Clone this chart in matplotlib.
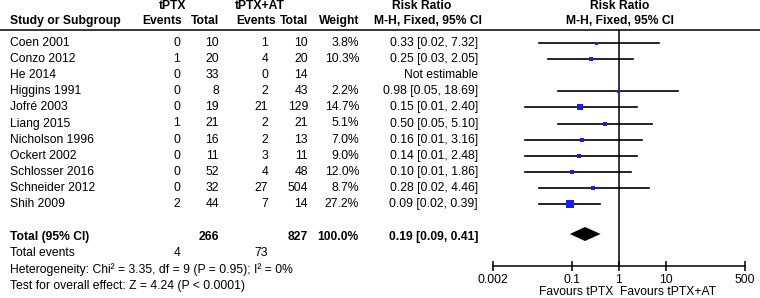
import matplotlib
matplotlib.use("Agg")
import matplotlib.pyplot as plt
from matplotlib.ticker import FixedLocator, FixedFormatter, NullLocator
import numpy as np

plt.rcParams['font.family'] = ['Liberation Sans', 'DejaVu Sans']

# data
studies = ["Coen 2001", "Conzo 2012", "He 2014", "Higgins 1991", "Jofré 2003",
           "Liang 2015", "Nicholson 1996", "Ockert 2002", "Schlosser 2016",
           "Schneider 2012", "Shih 2009"]
ev_ptx = [0, 1, 0, 0, 0, 1, 0, 0, 0, 0, 2]
tot_ptx = [10, 20, 33, 8, 19, 21, 16, 11, 52, 32, 44]
ev_at = [1, 4, 0, 2, 21, 2, 2, 3, 4, 27, 7]
tot_at = [10, 20, 14, 43, 129, 21, 13, 11, 48, 504, 14]
weight = [3.8, 10.3, None, 2.2, 14.7, 5.1, 7.0, 9.0, 12.0, 8.7, 27.2]
rr = [0.33, 0.25, None, 0.98, 0.15, 0.50, 0.16, 0.14, 0.10, 0.28, 0.09]
rr_lo = [0.02, 0.03, None, 0.05, 0.01, 0.05, 0.01, 0.01, 0.01, 0.02, 0.02]
rr_hi = [7.32, 2.05, None, 18.69, 2.40, 5.10, 3.16, 2.48, 1.86, 4.46, 0.39]

total_n_ptx = 266
total_n_at = 827
total_ev_ptx = 4
total_ev_at = 73
pooled = (0.19, 0.09, 0.41)
het_text = "Heterogeneity: Chi² = 3.35, df = 9 (P = 0.95); I² = 0%"
test_text = "Test for overall effect: Z = 4.24 (P < 0.0001)"
tick_vals = [0.002, 0.1, 1, 10, 500]
tick_labels = ["0.002", "0.1", "1", "10", "500"]

W, H = 760, 298
fig = plt.figure(figsize=(W / 100, H / 100), dpi=100)
fig.patch.set_facecolor("white")

# table axes in pixel coordinates
tab = fig.add_axes([0, 0, 1, 1])
tab.set_xlim(0, W)
tab.set_ylim(H, 0)
tab.axis("off")

fs = 8.7
blue = "#1a1aff"

def txt(x, y, s, ha="right", bold=False):
    tab.text(x, y, s, ha=ha, va="center", fontsize=fs,
             fontweight="bold" if bold else "normal", color="black")

# headers
txt(173, 6, "tPTX", ha="center", bold=True)
txt(260, 6, "tPTX+AT", ha="center", bold=True)
txt(422, 6, "Risk Ratio", ha="center", bold=True)
txt(620, 6, "Risk Ratio", ha="center", bold=True)
txt(10, 21, "Study or Subgroup", ha="left", bold=True)
txt(182, 21, "Events", bold=True)
txt(219, 21, "Total", bold=True)
txt(276, 21, "Events", bold=True)
txt(308, 21, "Total", bold=True)
txt(359, 21, "Weight", bold=True)
txt(482, 21, "M-H, Fixed, 95% CI", bold=True)
txt(620, 21, "M-H, Fixed, 95% CI", ha="center", bold=True)
tab.plot([0, W], [29.5, 29.5], color="black", lw=1.1)

row_y = 43 + np.arange(len(studies)) * 16.1
for i, y in enumerate(row_y):
    txt(10, y, studies[i], ha="left")
    txt(180, y, str(ev_ptx[i]))
    txt(219, y, str(tot_ptx[i]))
    txt(268, y, str(ev_at[i]))
    txt(308, y, str(tot_at[i]))
    if weight[i] is not None:
        txt(359, y, f"{weight[i]:.1f}%")
        txt(478, y, f"{rr[i]:.2f} [{rr_lo[i]:.2f}, {rr_hi[i]:.2f}]")
    else:
        txt(478, y, "Not estimable")

y_tot = 237
txt(10, y_tot, "Total (95% CI)", ha="left", bold=True)
txt(219, y_tot, str(total_n_ptx), bold=True)
txt(308, y_tot, str(total_n_at), bold=True)
txt(359, y_tot, "100.0%", bold=True)
txt(478, y_tot, f"{pooled[0]:.2f} [{pooled[1]:.2f}, {pooled[2]:.2f}]", bold=True)
txt(10, 253, "Total events", ha="left")
txt(180, 253, str(total_ev_ptx))
txt(268, 253, str(total_ev_at))
txt(10, 270, het_text, ha="left")
txt(10, 286, test_text, ha="left")

# forest axes, log scale
x0, x1 = 492.5, 745
fa = fig.add_axes([x0 / W, 0, (x1 - x0) / W, 1])
fa.patch.set_alpha(0)
fa.set_xscale("log")
fa.set_xlim(tick_vals[0], tick_vals[-1])
fa.set_ylim(H, 0)
for s in ["top", "left", "right"]:
    fa.spines[s].set_visible(False)
fa.spines["bottom"].set_position(("data", 266))
fa.spines["bottom"].set_linewidth(1.1)
fa.xaxis.set_major_locator(FixedLocator(tick_vals))
fa.xaxis.set_major_formatter(FixedFormatter(tick_labels))
fa.xaxis.set_minor_locator(NullLocator())
fa.tick_params(axis="x", direction="inout", length=7, width=1.1,
               labelsize=fs, pad=2)
fa.set_yticks([])

fa.plot([1, 1], [30, 266], color="black", lw=1.1, clip_on=False)
for i, y in enumerate(row_y):
    if rr[i] is None:
        continue
    fa.plot([rr_lo[i], rr_hi[i]], [y, y], color="black", lw=1.2, clip_on=False)
    side = max(1.35 * np.sqrt(weight[i]), 3.0)
    fa.plot([rr[i]], [y], marker="s", ms=side * 0.72, color=blue,
            mec=blue, mew=0, clip_on=False, zorder=3)

yd = y_tot - 3
fa.fill([pooled[1], pooled[0], pooled[2], pooled[0]],
        [yd, yd - 7, yd, yd + 7], color="black", lw=0)

txt(613, 292, "Favours tPTX")
txt(620, 292, "Favours tPTX+AT", ha="left")

fig.savefig("out.png", dpi=100)
